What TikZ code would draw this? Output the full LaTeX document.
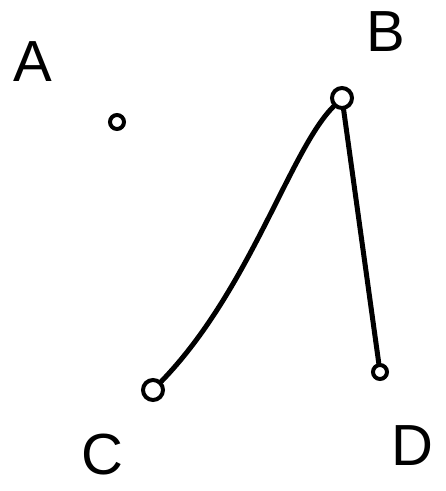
\documentclass[tikz,border=0pt]{standalone}
\usepackage{fontspec}
\setmainfont{Liberation Sans}
\begin{document}
\begin{tikzpicture}[x=1pt,y=-1pt,
  vtx/.style={circle,draw,line width=4pt,minimum size=14pt,inner sep=0pt},
  lbl/.style={font=\fontsize{58}{58}\selectfont},
  edge/.style={line width=5pt,line cap=round}]
\useasboundingbox (0,0) rectangle (446,491);
\node[vtx] (a) at (117,122) {};
\node[vtx,minimum size=20pt] (b) at (342,98) {};
\node[vtx,minimum size=20pt] (c) at (153,390) {};
\node[vtx] (d) at (380,372) {};
\node[lbl] (la) at (33,62) {A};
\node[lbl] (lb) at (386,32) {B};
\node[lbl] (lc) at (102,455) {C};
\node[lbl] (ld) at (412,446) {D};
\draw[edge] (b) .. controls (290,150) and (250,290) .. (c);
\draw[edge] (b) -- (d);
\end{tikzpicture}
\end{document}
